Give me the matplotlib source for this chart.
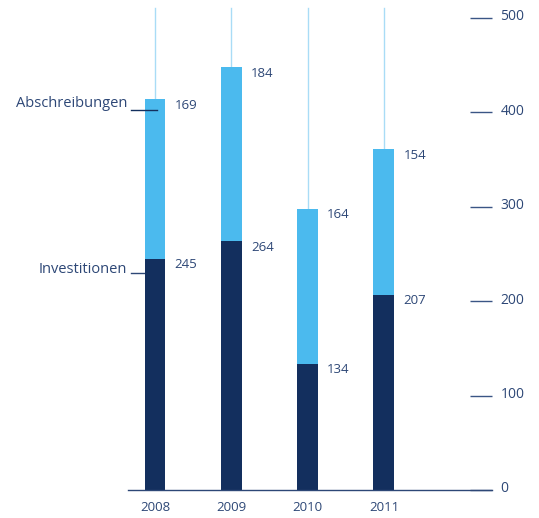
import numpy as np
import matplotlib.pyplot as plt
from matplotlib.transforms import ScaledTranslation

jahre = ["2008", "2009", "2010", "2011"]
investitionen = [245, 264, 134, 207]
abschreibungen = [169, 184, 164, 154]
yticks = [0, 100, 200, 300, 400, 500]

dunkel = "#132f5e"
hell = "#4bbaee"
linie = "#a9dcf6"
schrift = "#2d4776"

plt.rcParams['font.family'] = ['Open Sans', 'DejaVu Sans']

fig = plt.figure(figsize=(5.39, 5.18), dpi=100)
W, H = 539, 518
ax = fig.add_axes([128 / W, 28 / H, 364 / W, 472 / H])

x = np.arange(len(jahre))
breite = 0.275
inv = np.array(investitionen)
ab = np.array(abschreibungen)
gesamt = inv + ab

# duenne Linien ueber den Saeulen bis zum oberen Rand
for xi, g in zip(x, gesamt):
    ax.plot([xi, xi], [g, 511], color=linie, lw=1, clip_on=False, zorder=1)

ax.bar(x, inv, width=breite, color=dunkel, zorder=2)
ax.bar(x, ab, width=breite, bottom=inv, color=hell, zorder=2)

# Werte rechts neben den Segmenten
for xi, i, g, a in zip(x, inv, gesamt, ab):
    ax.annotate(str(i), (xi + breite / 2, i), xytext=(6.5, -4.5), textcoords="offset points",
                ha="left", va="center", fontsize=9.5, color=schrift)
    ax.annotate(str(a), (xi + breite / 2, g), xytext=(6.5, -4.5), textcoords="offset points",
                ha="left", va="center", fontsize=9.5, color=schrift)

# Beschriftung der Reihen an der ersten Saeule
ax.plot([-0.32, 0.026], [gesamt[0] - 11.5, gesamt[0] - 11.5], color=dunkel, lw=1,
        clip_on=False, zorder=3)
ax.text(-0.367, gesamt[0] - 5, "Abschreibungen", ha="right", va="center",
        fontsize=10.5, color=schrift)
ax.plot([-0.315, -0.13], [inv[0] - 15, inv[0] - 15], color=schrift, lw=1,
        clip_on=False, zorder=1)
ax.text(-0.367, inv[0] - 11, "Investitionen", ha="right", va="center",
        fontsize=10.5, color=schrift)

ax.set_xlim(-0.354, 4.417)
ax.set_ylim(0, 500)
ax.set_xticks(x)
ax.set_xticklabels(jahre, fontsize=9.5, color=schrift)
ax.tick_params(axis="x", length=0, pad=8)

ax.yaxis.tick_right()
ax.set_yticks(yticks)
ax.set_yticklabels([str(t) for t in yticks], fontsize=10, color=schrift)
ax.tick_params(axis="y", direction="in", length=15.8, width=1, color="#3a5585", pad=6)
hoch = ScaledTranslation(0, 3 / 100, fig.dpi_scale_trans)
for lab in ax.get_yticklabels():
    lab.set_transform(lab.get_transform() + hoch)

for s in ["top", "left", "right"]:
    ax.spines[s].set_visible(False)
ax.spines["bottom"].set_color(schrift)
ax.spines["bottom"].set_linewidth(1)

fig.savefig("out.png", dpi=100)
